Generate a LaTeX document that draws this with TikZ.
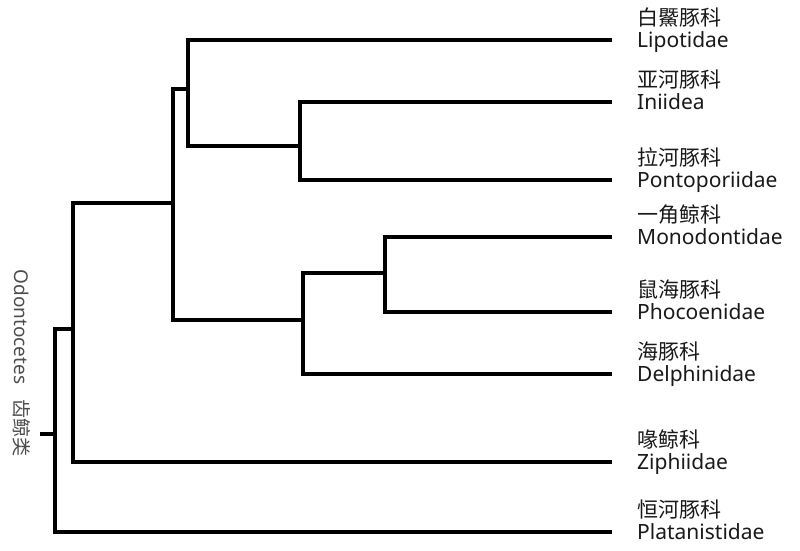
\documentclass[tikz,border=0pt]{standalone}
\usepackage{fontspec}
\setmainfont{Noto Sans}
\newfontfamily\cjk{Noto Sans CJK SC}
\begin{document}
\begin{tikzpicture}[x=1pt,y=-1pt,
  branch/.style={line width=3.8pt, line join=miter, line cap=butt},
  latin/.style={anchor=base west, inner sep=0pt, font=\fontsize{21}{24}\selectfont, text=black!90},
  zh/.style={anchor=base west, inner sep=0pt, font=\cjk\fontsize{21}{24}\selectfont, text=black!90},
  side/.style={rotate=-90, inner sep=0pt, text=black!70, font=\fontsize{19}{22}\selectfont}]
\useasboundingbox (0,0) rectangle (800,550);
% leaf ends
\coordinate (e1) at (612,40);
\coordinate (e2) at (612,102);
\coordinate (e3) at (612,180);
\coordinate (e4) at (612,237);
\coordinate (e5) at (612,312);
\coordinate (e6) at (612,374);
\coordinate (e7) at (612,462);
\coordinate (e8) at (612,532);
% internal junctions
\coordinate (n1) at (300,146);
\coordinate (n2) at (188,89);
\coordinate (n3) at (385,273);
\coordinate (n4) at (303,320);
\coordinate (n5) at (173,203);
\coordinate (n6) at (73,329);
\coordinate (n7) at (55,434);
\coordinate (r0) at (40,434);
% branches
\draw[branch] (n1) |- (e2);
\draw[branch] (n1) |- (e3);
\draw[branch] (n2) |- (e1);
\draw[branch] (n2) |- (n1);
\draw[branch] (n3) |- (e4);
\draw[branch] (n3) |- (e5);
\draw[branch] (n4) |- (n3);
\draw[branch] (n4) |- (e6);
\draw[branch] (n5) |- (n2);
\draw[branch] (n5) |- (n4);
\draw[branch] (n6) |- (n5);
\draw[branch] (n6) |- (e7);
\draw[branch] (n7) |- (n6);
\draw[branch] (n7) |- (e8);
\draw[branch] (r0) -- (n7);
% labels
\node[latin] (la1) at ([xshift=25pt,yshift=-7.5pt]e1) {Lipotidae};
\node[zh] (zh1) at ([yshift=22pt]la1.base west) {白鱀豚科};
\node[latin] (la2) at ([xshift=25pt,yshift=-7.5pt]e2) {Iniidea};
\node[zh] (zh2) at ([yshift=22pt]la2.base west) {亚河豚科};
\node[latin] (la3) at ([xshift=25pt,yshift=-7.5pt]e3) {Pontoporiidae};
\node[zh] (zh3) at ([yshift=22pt]la3.base west) {拉河豚科};
\node[latin] (la4) at ([xshift=25pt,yshift=-7.5pt]e4) {Monodontidae};
\node[zh] (zh4) at ([yshift=22pt]la4.base west) {一角鲸科};
\node[latin] (la5) at ([xshift=25pt,yshift=-7.5pt]e5) {Phocoenidae};
\node[zh] (zh5) at ([yshift=22pt]la5.base west) {鼠海豚科};
\node[latin] (la6) at ([xshift=25pt,yshift=-7.5pt]e6) {Delphinidae};
\node[zh] (zh6) at ([yshift=22pt]la6.base west) {海豚科};
\node[latin] (la7) at ([xshift=25pt,yshift=-7.5pt]e7) {Ziphiidae};
\node[zh] (zh7) at ([yshift=22pt]la7.base west) {喙鲸科};
\node[latin] (la8) at ([xshift=25pt,yshift=-7.5pt]e8) {Platanistidae};
\node[zh] (zh8) at ([yshift=22pt]la8.base west) {恒河豚科};
% side label
\node[side] (odo) at (22,363) {Odontocetes\hspace{0.8em}{\cjk 齿鲸类}};
\end{tikzpicture}
\end{document}
